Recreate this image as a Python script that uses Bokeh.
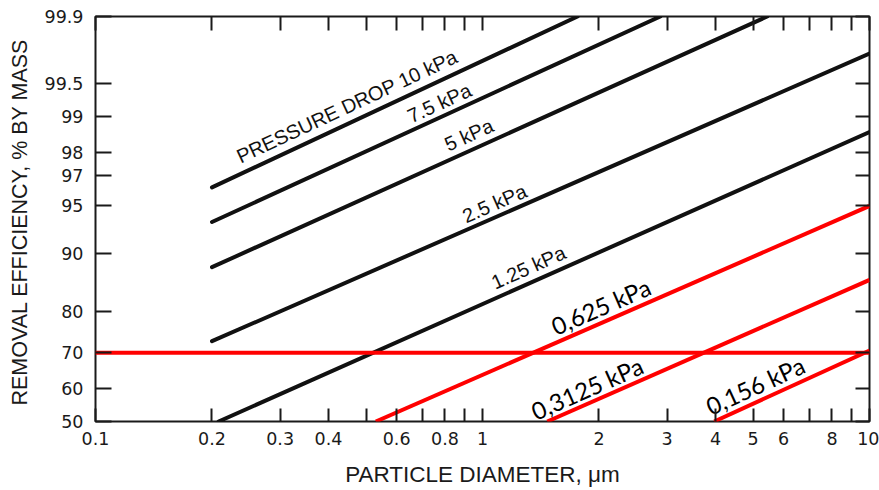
import math
from statistics import NormalDist
from bokeh.plotting import figure
from bokeh.models import ColumnDataSource, FixedTicker, LinearAxis, LogAxis, Range1d
from bokeh.core.properties import value
from bokeh.embed import file_html
from bokeh.resources import INLINE

# ---------------- data ----------------
line_names = ["PRESSURE DROP 10 kPa", "7.5 kPa", "5 kPa", "2.5 kPa", "1.25 kPa",
              "0,625 kPa", "0,3125 kPa", "0,156 kPa"]
diam_start = [0.2, 0.2, 0.2, 0.2, 0.208, 0.53, 1.47, 3.97]
eff_start = [96.3, 93.6, 88.05, 73.0, 50.0, 50.0, 50.0, 50.0]
diam_end = [1.76, 2.88, 5.44, 10.0, 10.0, 10.0, 10.0, 10.0]
eff_end = [99.9, 99.9, 99.9, 99.75, 98.64, 95.0, 86.0, 70.6]

threshold_eff = [70.0, 70.0]
threshold_diam = [0.1, 10.0]

label_diam = [0.233, 0.644, 0.803, 0.893, 1.061, 1.516, 1.346, 3.81]
label_eff = [97.6, 98.88, 98.07, 93.6, 84.5, 75.2, 51.3, 52.8]
label_angle_deg = [25.0, 24.7, 24.3, 23.7, 24.0, 23.5, 23.8, 24.6]

x_ticks = [0.1, 0.2, 0.3, 0.4, 0.5, 0.6, 0.7, 0.8, 0.9, 1, 2, 3, 4, 5, 6, 7, 8, 9, 10]
x_tick_labels = ["0.1", "0.2", "0.3", "0.4", "", "0.6", "", "0.8", "", "1",
                 "2", "3", "4", "5", "6", "", "8", "", "10"]
y_tick_eff = [50, 60, 70, 80, 90, 95, 97, 98, 99, 99.5, 99.9]
y_tick_labels = ["50", "60", "70", "80", "90", "95", "97", "98", "99", "99.5", "99.9"]

# ---------------- probability scale ----------------
_nd = NormalDist()


def probit(pct):
    return _nd.inv_cdf(pct / 100.0)


y_ticks = [probit(v) for v in y_tick_eff]
x_major = [t for t, lab in zip(x_ticks, x_tick_labels) if lab]
x_major_labels = [lab for lab in x_tick_labels if lab]
x_minor = [t for t, lab in zip(x_ticks, x_tick_labels) if not lab]

p = figure(width=879, height=490, x_axis_type="log",
           x_range=Range1d(0.1, 10), y_range=Range1d(probit(50), probit(99.9)),
           output_backend="svg", toolbar_location=None,
           min_border_left=95, min_border_top=16, min_border_right=10, min_border_bottom=69)

p.xgrid.grid_line_color = None
p.ygrid.grid_line_color = None
p.outline_line_color = "#1a1a1a"
p.outline_line_width = 2
p.background_fill_color = "white"
p.border_fill_color = "white"

tick_font = "DejaVu Sans"
ink = "#1a1a1a"


def style_axis(ax, tick_len):
    ax.axis_line_color = None
    ax.major_tick_in = tick_len
    ax.major_tick_out = 0
    ax.major_tick_line_color = ink
    ax.major_tick_line_width = 2
    ax.minor_tick_in = tick_len
    ax.minor_tick_out = 0
    ax.minor_tick_line_color = ink
    ax.minor_tick_line_width = 2
    ax.major_label_text_font = tick_font
    ax.major_label_text_font_size = "17.5px"
    ax.major_label_text_color = ink


# bottom axis
xa = p.xaxis[0]
xa.ticker = FixedTicker(ticks=x_major, minor_ticks=x_minor)
xa.major_label_overrides = dict(zip(x_major, x_major_labels))
style_axis(xa, 13)
xa.major_label_standoff = 10
xa.axis_label = "PARTICLE DIAMETER, \u03bcm"
xa.axis_label_text_font = "Liberation Sans"
xa.axis_label_text_font_style = "normal"
xa.axis_label_text_font_size = "22.5px"
xa.axis_label_text_color = ink
xa.axis_label_standoff = 14

# left axis
ya = p.yaxis[0]
ya.ticker = FixedTicker(ticks=y_ticks)
ya.major_label_overrides = dict(zip(y_ticks, y_tick_labels))
style_axis(ya, 16)
ya.major_label_standoff = 12
ya.axis_label = "REMOVAL EFFICIENCY,  % BY MASS"
ya.axis_label_text_font = "Liberation Sans"
ya.axis_label_text_font_style = "normal"
ya.axis_label_text_font_size = "21.5px"
ya.axis_label_text_color = ink
ya.axis_label_standoff = 10

# right and top axes (tick marks only, as minor ticks -> no labels)
ra = LinearAxis(ticker=FixedTicker(ticks=[], minor_ticks=y_ticks))
style_axis(ra, 14)
ra.major_label_standoff = 0
p.add_layout(ra, "right")
ta = LogAxis(ticker=FixedTicker(ticks=[], minor_ticks=x_ticks))
style_axis(ta, 14)
ta.major_label_standoff = 0
p.add_layout(ta, "above")

# ---------------- lines ----------------
n_black = 5
src_black = ColumnDataSource(dict(
    x0=diam_start[:n_black], y0=[probit(v) for v in eff_start[:n_black]],
    x1=diam_end[:n_black], y1=[probit(v) for v in eff_end[:n_black]]))
src_red = ColumnDataSource(dict(
    x0=diam_start[n_black:], y0=[probit(v) for v in eff_start[n_black:]],
    x1=diam_end[n_black:], y1=[probit(v) for v in eff_end[n_black:]]))

p.segment("x0", "y0", "x1", "y1", source=src_black, line_color="#111111",
          line_width=4, line_cap="round")
p.line(threshold_diam, [probit(v) for v in threshold_eff], line_color="#ff0000", line_width=4)
p.segment("x0", "y0", "x1", "y1", source=src_red, line_color="#ff0000",
          line_width=4, line_cap="butt")

# ---------------- labels ----------------
lab_black = ColumnDataSource(dict(
    x=label_diam[:n_black], y=[probit(v) for v in label_eff[:n_black]],
    text=line_names[:n_black], angle=[math.radians(a) for a in label_angle_deg[:n_black]]))
lab_red = ColumnDataSource(dict(
    x=label_diam[n_black:], y=[probit(v) for v in label_eff[n_black:]],
    text=line_names[n_black:], angle=[math.radians(a) for a in label_angle_deg[n_black:]]))

p.text("x", "y", text="text", angle="angle", source=lab_black,
       text_font=value("Liberation Sans"), text_font_size="20px", text_color="#111111",
       text_align="left", text_baseline="alphabetic", y_offset=-5)
p.text("x", "y", text="text", angle="angle", source=lab_red,
       text_font=value("Lato"), text_font_size="24px", text_color="#000000",
       text_align="left", text_baseline="alphabetic", y_offset=-5)

open("out.html", "w").write(file_html(p, INLINE))
